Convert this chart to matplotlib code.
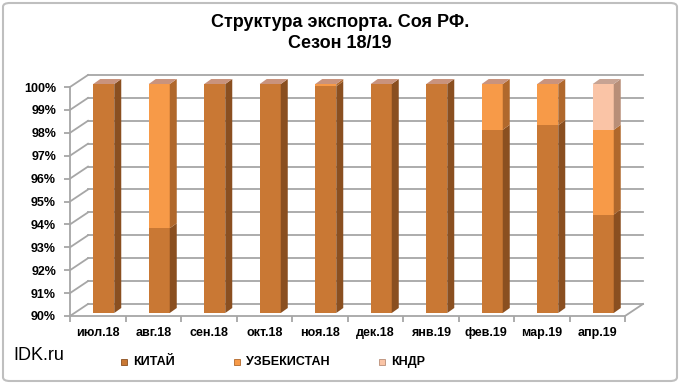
import numpy as np
import matplotlib
matplotlib.use('Agg')
from matplotlib import pyplot as plt
from matplotlib.patches import Polygon, Rectangle, FancyBboxPatch

plt.rcParams['font.family'] = ['Liberation Sans', 'DejaVu Sans']

## data (shares in %, axis starts at 90)
months = ['июл.18', 'авг.18', 'сен.18', 'окт.18', 'ноя.18',
          'дек.18', 'янв.19', 'фев.19', 'мар.19', 'апр.19']
china = [100.0, 93.7, 100.0, 100.0, 99.9, 100.0, 100.0, 98.0, 98.2, 94.3]
uzbek = [0.0, 6.3, 0.0, 0.0, 0.1, 0.0, 0.0, 2.0, 1.8, 3.7]
dprk = [0.0, 0.0, 0.0, 0.0, 0.0, 0.0, 0.0, 0.0, 0.0, 2.0]
series_names = ['КИТАЙ', 'УЗБЕКИСТАН', 'КНДР']
y_min, y_max = 90, 100

## colours: front, side, top
cols = {
    'КИТАЙ': ('#C97834', '#8A4F20', '#C9937D'),
    'УЗБЕКИСТАН': ('#F79A48', '#B0682C', '#C9937D'),
    'КНДР': ('#FAC4A6', '#B88E78', '#C7A393'),
}
grid_col = '#A6A6A6'

W, H = 680, 384
fig = plt.figure(figsize=(W / 100, H / 100), dpi=100)
ax = fig.add_axes([70 / W, 68 / H, 555 / W, 229 / H])
ax.set_xlim(-0.5, len(months) - 0.5)
ax.set_ylim(y_min, y_max)

# pixel -> data helpers
sx = 555 / len(months)
sy = 229 / (y_max - y_min)
wdx, wdy = 18 / sx, 12 / sy      # wall depth
ox, oy = 6 / sx, 3 / sy          # bar front offset
bdx, bdy = 7 / sx, 5 / sy        # bar depth
bw = 21 / sx                      # bar width

x = np.arange(len(months))
x0, x1 = -0.5, len(months) - 0.5

## back wall, side wall, floor
for y in range(y_min, y_max + 1):
    ax.plot([x0 + wdx, x1 + wdx], [y + wdy, y + wdy], color=grid_col,
            lw=1.3, clip_on=False, zorder=1)
    ax.plot([x0, x0 + wdx], [y, y + wdy], color=grid_col,
            lw=1.3, clip_on=False, zorder=1)
ax.plot([x1, x1 + wdx], [y_min, y_min + wdy], color=grid_col,
        lw=1.3, clip_on=False, zorder=1)

## bars (front faces via ax.bar, sides and tops as polygons)
stack = [china, uzbek, dprk]
bottom = np.full(len(months), float(y_min))
tops = np.array(china) + np.array(uzbek) + np.array(dprk)
for name, vals in zip(series_names, stack):
    vals = np.array(vals)
    h = np.where(bottom == y_min, vals - y_min, vals)
    front, side, top = cols[name]
    ax.bar(x + ox, h, bottom=bottom + oy, width=bw, color=front,
           edgecolor='none', clip_on=False, zorder=3)
    for i in range(len(months)):
        if h[i] <= 0:
            continue
        xr = x[i] + ox + bw / 2
        xl = x[i] + ox - bw / 2
        yb = bottom[i] + oy
        yt = bottom[i] + h[i] + oy
        ax.add_patch(Polygon([(xr, yb), (xr + bdx, yb + bdy),
                              (xr + bdx, yt + bdy), (xr, yt)],
                             closed=True, facecolor=side, edgecolor='none',
                             clip_on=False, zorder=3))
        if abs(bottom[i] + h[i] - tops[i]) < 1e-9:
            ax.add_patch(Polygon([(xl, yt), (xr, yt), (xr + bdx, yt + bdy),
                                  (xl + bdx, yt + bdy)],
                                 closed=True, facecolor=top, edgecolor='none',
                                 clip_on=False, zorder=3))
    bottom = bottom + h

## axes styling
for s in ['top', 'right']:
    ax.spines[s].set_visible(False)
for s in ['left', 'bottom']:
    ax.spines[s].set_color(grid_col)
    ax.spines[s].set_linewidth(1.3)
ax.set_yticks(range(y_min, y_max + 1))
ax.set_yticklabels([f'{v}%' for v in range(y_min, y_max + 1)],
                   fontsize=9, fontweight='bold')
ax.set_xticks(x)
ax.set_xticklabels(months, fontsize=9, fontweight='bold')
ax.set_xticks(np.arange(x0, x1 + 0.01, 1.0), minor=True)
ax.tick_params(axis='x', which='major', length=0, pad=8)
ax.tick_params(axis='x', which='minor', length=4, color=grid_col, width=1.3)
ax.tick_params(axis='y', length=4, color=grid_col, width=1.3, pad=6)

## title, watermark, legend
fig.text(0.5, 1 - 33 / H, 'Структура экспорта. Соя РФ.\nСезон 18/19',
         ha='center', va='center', fontsize=13, fontweight='bold',
         linespacing=1.3)
fig.text(13 / W, 1 - 356 / H, 'IDK.ru', ha='left', va='center', fontsize=13)

leg_x = [121, 234, 379]
for lx, name in zip(leg_x, series_names):
    fig.patches.append(Rectangle((lx / W, 1 - 365 / H), 6 / W, 6 / H,
                                 transform=fig.transFigure,
                                 facecolor=cols[name][0],
                                 edgecolor=cols[name][1], lw=0.6))
    fig.text((lx + 12) / W, 1 - 362 / H, name, ha='left', va='center',
             fontsize=9, fontweight='bold')

fig.patches.append(FancyBboxPatch((3 / W, 3 / H), 1 - 6 / W, 1 - 6 / H,
                                  boxstyle='round,pad=0,rounding_size=0.01',
                                  transform=fig.transFigure, facecolor='none',
                                  edgecolor='#BFBFBF', lw=1.5))

fig.savefig('out.png', dpi=100)
